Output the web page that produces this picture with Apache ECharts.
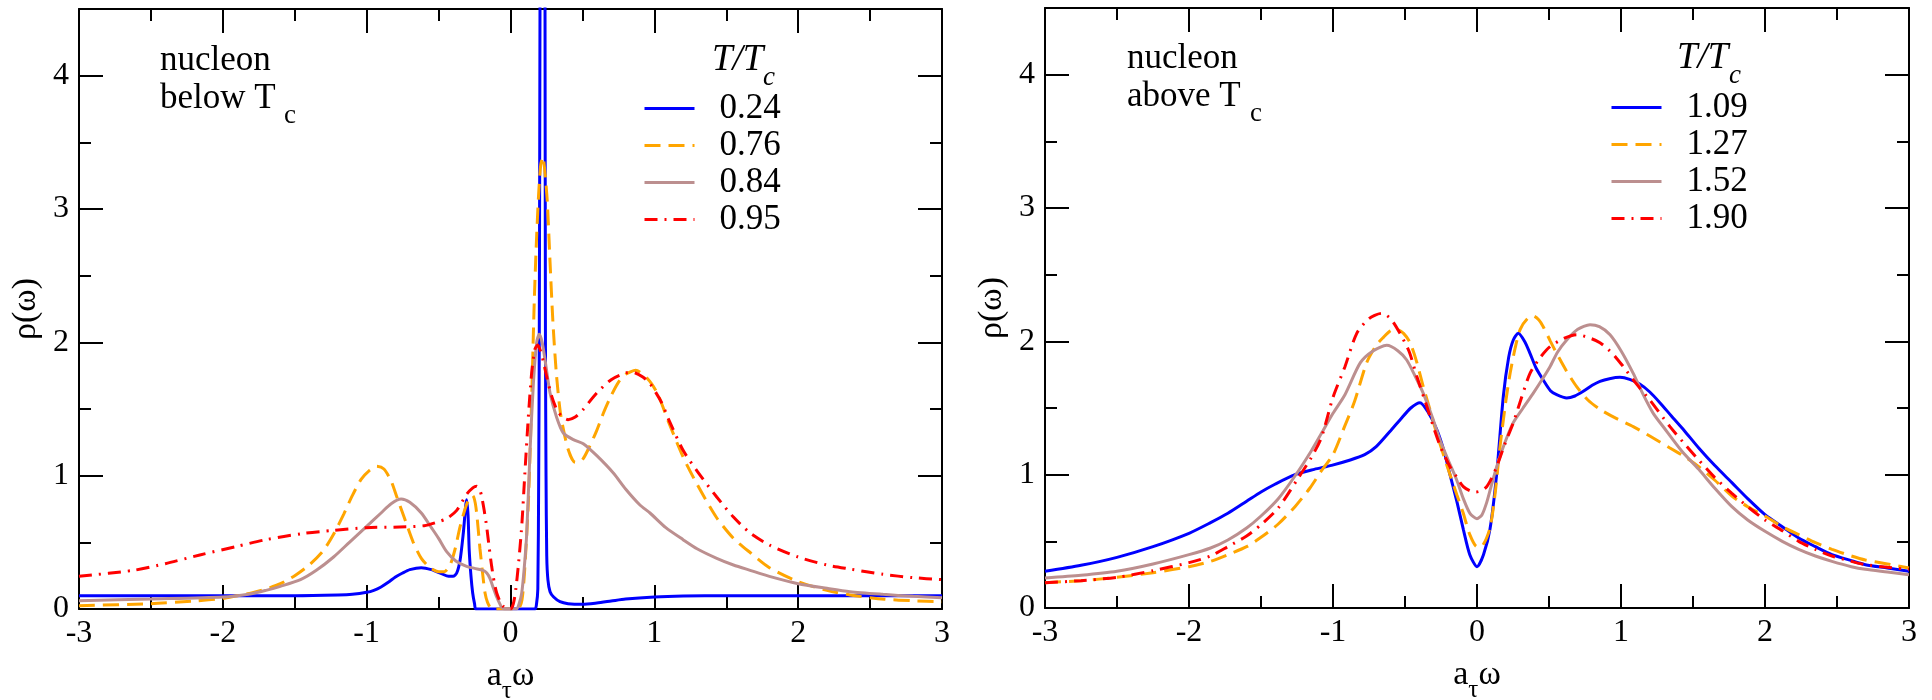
<!DOCTYPE html>
<html><head><meta charset="utf-8">
<script src="https://cdn.jsdelivr.net/npm/echarts@6/dist/echarts.min.js"></script>
<style>html,body{margin:0;padding:0;background:#fff}#c{width:1932px;height:700px}</style>
</head><body><div id="c"></div>
<script>
// ---- axis ranges / tick labels ----
const xRange = [-3, 3];
const yRange = [0, 4.5];
const xTickStep = 1;
const yTickStep = 1;

// ---- legend labels ----
const namesBelow = ['0.24', '0.76', '0.84', '0.95'];
const namesAbove = ['1.09', '1.27', '1.52', '1.90'];

// ---- left panel: nucleon below Tc, [a_tau*omega, rho] ----
const below024 = [[-3,0.10],[-2.5,0.10],[-2,0.10],[-1.5,0.10],[-1.2,0.105],[-1.1,0.11],[-1.0,0.125],[-0.95,0.14],[-0.9,0.165],[-0.85,0.2],[-0.8,0.24],[-0.75,0.27],[-0.7,0.295],[-0.62,0.31],[-0.55,0.295],[-0.48,0.265],[-0.43,0.245],[-0.4,0.245],[-0.374,0.27],[-0.35,0.37],[-0.328,0.57],[-0.305,0.82],[-0.295,0.7],[-0.287,0.44],[-0.275,0.25],[-0.263,0.12],[-0.25,0.04],[-0.24,0.0],[0.17,0.0],[0.18,0.03],[0.19,0.15],[0.196,1.0],[0.2,2.0],[0.205,4.5],[0.21,9],[0.222,14],[0.234,9],[0.24,4.5],[0.243,2.0],[0.247,1.0],[0.252,0.4],[0.26,0.22],[0.275,0.13],[0.3,0.09],[0.344,0.055],[0.4,0.04],[0.5,0.035],[0.6,0.045],[0.7,0.06],[0.8,0.075],[1.0,0.09],[1.2,0.097],[1.5,0.1],[2,0.1],[2.5,0.1],[3,0.1]];
const below076 = [[-3,0.025],[-2.5,0.04],[-2.2,0.06],[-2,0.08],[-1.9,0.1],[-1.8,0.12],[-1.7,0.15],[-1.6,0.19],[-1.5,0.25],[-1.4,0.33],[-1.3,0.44],[-1.23,0.56],[-1.16,0.71],[-1.1,0.85],[-1.04,0.97],[-0.98,1.04],[-0.93,1.07],[-0.88,1.05],[-0.83,0.96],[-0.79,0.84],[-0.73,0.66],[-0.676,0.5],[-0.62,0.38],[-0.56,0.31],[-0.5,0.28],[-0.46,0.28],[-0.42,0.33],[-0.385,0.45],[-0.35,0.62],[-0.3,0.8],[-0.263,0.85],[-0.24,0.76],[-0.212,0.45],[-0.19,0.23],[-0.177,0.12],[-0.16,0.05],[-0.14,0.01],[-0.12,0],[0.05,0],[0.08,0.07],[0.10,0.32],[0.125,0.82],[0.147,1.57],[0.165,2.3],[0.18,2.75],[0.195,3.1],[0.21,3.33],[0.225,3.39],[0.24,3.27],[0.256,3.05],[0.275,2.6],[0.295,2.15],[0.32,1.75],[0.35,1.45],[0.4,1.2],[0.45,1.1],[0.5,1.12],[0.55,1.22],[0.6,1.34],[0.65,1.48],[0.7,1.6],[0.75,1.7],[0.8,1.76],[0.87,1.79],[0.95,1.73],[1.02,1.62],[1.1,1.4],[1.2,1.14],[1.3,0.93],[1.43,0.69],[1.55,0.53],[1.67,0.42],[1.8,0.31],[2.0,0.205],[2.2,0.14],[2.36,0.105],[2.6,0.073],[2.8,0.062],[3,0.055]];
const below084 = [[-3,0.062],[-2.5,0.075],[-2,0.09],[-1.8,0.115],[-1.7,0.14],[-1.6,0.17],[-1.46,0.22],[-1.35,0.29],[-1.23,0.39],[-1.12,0.5],[-1.0,0.62],[-0.9,0.72],[-0.83,0.79],[-0.76,0.825],[-0.7,0.8],[-0.62,0.72],[-0.55,0.61],[-0.5,0.53],[-0.444,0.43],[-0.38,0.36],[-0.305,0.32],[-0.25,0.305],[-0.19,0.29],[-0.165,0.27],[-0.143,0.23],[-0.12,0.16],[-0.096,0.09],[-0.075,0.04],[-0.06,0.01],[-0.04,0],[0.04,0],[0.06,0.04],[0.078,0.12],[0.095,0.3],[0.113,0.57],[0.136,1.19],[0.159,1.69],[0.182,2.0],[0.2,2.06],[0.22,2.0],[0.24,1.87],[0.275,1.62],[0.32,1.44],[0.367,1.32],[0.437,1.27],[0.506,1.24],[0.6,1.15],[0.715,1.02],[0.8,0.9],[0.9,0.78],[0.97,0.72],[1.08,0.61],[1.2,0.52],[1.3,0.45],[1.434,0.38],[1.55,0.33],[1.666,0.29],[1.8,0.245],[2.0,0.19],[2.2,0.155],[2.36,0.13],[2.59,0.11],[2.8,0.095],[3,0.085]];
const below095 = [[-3,0.245],[-2.62,0.29],[-2.4,0.34],[-2.16,0.405],[-1.9,0.47],[-1.7,0.52],[-1.45,0.565],[-1.23,0.59],[-1.0,0.61],[-0.77,0.615],[-0.6,0.625],[-0.5,0.655],[-0.44,0.68],[-0.374,0.74],[-0.305,0.86],[-0.26,0.91],[-0.235,0.92],[-0.215,0.9],[-0.2,0.84],[-0.183,0.74],[-0.166,0.62],[-0.148,0.46],[-0.131,0.32],[-0.113,0.2],[-0.096,0.12],[-0.07,0.05],[-0.05,0.02],[-0.02,0.0],[0.0,0.0],[0.02,0.04],[0.037,0.15],[0.054,0.32],[0.078,0.62],[0.10,1.02],[0.124,1.44],[0.147,1.77],[0.17,1.95],[0.19,1.98],[0.21,1.93],[0.23,1.85],[0.252,1.74],[0.285,1.6],[0.32,1.5],[0.36,1.44],[0.4,1.42],[0.45,1.44],[0.5,1.49],[0.6,1.62],[0.7,1.72],[0.8,1.77],[0.85,1.775],[0.92,1.74],[0.97,1.69],[1.05,1.55],[1.1,1.42],[1.2,1.19],[1.3,1.03],[1.434,0.84],[1.55,0.69],[1.666,0.57],[1.8,0.48],[2.0,0.39],[2.2,0.33],[2.36,0.30],[2.59,0.26],[2.8,0.235],[3,0.22]];

// ---- right panel: nucleon above Tc ----
const above109 = [[-3,0.275],[-2.75,0.32],[-2.5,0.38],[-2.25,0.46],[-2.0,0.56],[-1.85,0.64],[-1.73,0.71],[-1.6,0.8],[-1.5,0.87],[-1.4,0.93],[-1.264,1.0],[-1.13,1.04],[-1.01,1.07],[-0.88,1.11],[-0.78,1.15],[-0.7,1.21],[-0.6,1.33],[-0.535,1.41],[-0.46,1.5],[-0.396,1.54],[-0.34,1.47],[-0.28,1.34],[-0.23,1.18],[-0.19,1.01],[-0.14,0.8],[-0.095,0.59],[-0.05,0.4],[0,0.31],[0.045,0.4],[0.09,0.59],[0.137,1.01],[0.183,1.59],[0.22,1.88],[0.252,2.01],[0.287,2.06],[0.33,2.0],[0.368,1.91],[0.41,1.8],[0.46,1.71],[0.51,1.63],[0.553,1.6],[0.623,1.575],[0.68,1.59],[0.738,1.625],[0.8,1.67],[0.854,1.70],[0.92,1.72],[0.993,1.73],[1.06,1.715],[1.13,1.68],[1.2,1.62],[1.27,1.54],[1.35,1.44],[1.44,1.33],[1.54,1.2],[1.65,1.07],[1.77,0.94],[1.88,0.82],[2.0,0.70],[2.12,0.61],[2.234,0.525],[2.35,0.46],[2.465,0.40],[2.6,0.355],[2.697,0.325],[2.85,0.3],[3,0.275]];
const above127 = [[-3,0.19],[-2.75,0.205],[-2.5,0.23],[-2.25,0.265],[-2.0,0.31],[-1.85,0.35],[-1.73,0.40],[-1.6,0.46],[-1.5,0.53],[-1.38,0.63],[-1.264,0.76],[-1.16,0.9],[-1.08,1.03],[-1.0,1.15],[-0.92,1.36],[-0.85,1.55],[-0.766,1.84],[-0.7,1.97],[-0.65,2.03],[-0.6,2.08],[-0.558,2.09],[-0.51,2.06],[-0.465,1.99],[-0.42,1.85],[-0.373,1.66],[-0.33,1.5],[-0.28,1.31],[-0.2,1.04],[-0.14,0.85],[-0.095,0.71],[-0.05,0.55],[0.0,0.46],[0.04,0.47],[0.09,0.6],[0.125,0.85],[0.16,1.21],[0.2,1.55],[0.23,1.76],[0.265,1.95],[0.30,2.09],[0.35,2.17],[0.39,2.19],[0.43,2.16],[0.46,2.11],[0.51,2.0],[0.553,1.91],[0.62,1.78],[0.692,1.66],[0.77,1.56],[0.854,1.49],[0.97,1.42],[1.085,1.36],[1.2,1.29],[1.34,1.2],[1.45,1.13],[1.54,1.06],[1.65,0.96],[1.77,0.84],[1.88,0.76],[2.0,0.69],[2.12,0.61],[2.234,0.55],[2.35,0.49],[2.465,0.44],[2.6,0.39],[2.697,0.36],[2.85,0.33],[3,0.30]];
const above152 = [[-3,0.225],[-2.75,0.245],[-2.5,0.275],[-2.25,0.33],[-2.0,0.40],[-1.85,0.45],[-1.73,0.51],[-1.6,0.6],[-1.5,0.69],[-1.38,0.82],[-1.264,0.99],[-1.15,1.18],[-1.08,1.31],[-1.0,1.46],[-0.917,1.6],[-0.81,1.84],[-0.72,1.93],[-0.627,1.97],[-0.55,1.93],[-0.488,1.86],[-0.43,1.74],[-0.373,1.61],[-0.31,1.43],[-0.257,1.26],[-0.2,1.11],[-0.141,0.96],[-0.095,0.82],[-0.049,0.71],[0.0,0.67],[0.035,0.7],[0.067,0.79],[0.1,0.92],[0.137,1.06],[0.19,1.23],[0.252,1.39],[0.32,1.5],[0.39,1.61],[0.45,1.71],[0.507,1.81],[0.56,1.92],[0.623,2.01],[0.7,2.09],[0.785,2.125],[0.85,2.11],[0.924,2.05],[1.0,1.93],[1.085,1.76],[1.15,1.61],[1.224,1.46],[1.3,1.35],[1.42,1.18],[1.54,1.04],[1.65,0.9],[1.77,0.76],[1.88,0.66],[2.0,0.575],[2.12,0.5],[2.234,0.44],[2.35,0.39],[2.465,0.35],[2.6,0.31],[2.697,0.29],[2.85,0.27],[3,0.25]];
const above190 = [[-3,0.19],[-2.75,0.205],[-2.5,0.23],[-2.25,0.28],[-2.0,0.34],[-1.85,0.39],[-1.73,0.46],[-1.6,0.54],[-1.5,0.625],[-1.38,0.75],[-1.25,0.96],[-1.15,1.13],[-1.08,1.28],[-1.0,1.58],[-0.917,1.81],[-0.835,2.06],[-0.75,2.17],[-0.662,2.21],[-0.6,2.17],[-0.535,2.06],[-0.47,1.92],[-0.419,1.74],[-0.36,1.55],[-0.303,1.36],[-0.25,1.2],[-0.1875,1.06],[-0.14,0.98],[-0.095,0.91],[-0.05,0.88],[-0.01,0.87],[0.03,0.88],[0.067,0.91],[0.1,0.97],[0.137,1.06],[0.19,1.22],[0.252,1.39],[0.31,1.58],[0.368,1.76],[0.44,1.88],[0.507,1.96],[0.6,2.02],[0.692,2.05],[0.77,2.03],[0.854,1.99],[0.94,1.91],[1.016,1.81],[1.1,1.69],[1.2,1.56],[1.34,1.36],[1.45,1.22],[1.54,1.11],[1.65,0.98],[1.77,0.86],[1.88,0.76],[2.0,0.66],[2.12,0.58],[2.234,0.50],[2.35,0.44],[2.465,0.39],[2.6,0.35],[2.697,0.325],[2.85,0.305],[3,0.29]];

const SERIF = 'Liberation Serif';
const colors = ['#0000ff', '#ffa500', '#bc8f8f', '#ff0000'];
const dashes = ['solid', [16, 8], 'solid', [13, 7, 2, 7]];

function xAxes(gridIndex) {
  const common = {
    type: 'value', gridIndex, min: xRange[0], max: xRange[1], interval: xTickStep,
    axisLine: { show: true, onZero: false, lineStyle: { color: '#000', width: 2 } },
    axisTick: { show: true, inside: true, length: 24, lineStyle: { color: '#000', width: 2 } },
    minorTick: { show: true, splitNumber: 2, length: 12, lineStyle: { color: '#000', width: 2 } },
    splitLine: { show: false }, minorSplitLine: { show: false }
  };
  return [
    Object.assign({}, common, {
      position: 'bottom',
      axisLabel: { show: true, margin: 9, fontSize: 32, fontFamily: SERIF, color: '#000' },
      name: '{m|a}{s|τ}{m|ω}', nameLocation: 'middle', nameGap: 40,
      nameTextStyle: { color: '#000', fontFamily: SERIF, rich: {
        m: { fontSize: 34, fontFamily: SERIF, color: '#000' },
        s: { fontSize: 25, fontFamily: SERIF, color: '#000', padding: [30, 0, 0, 0] }
      } }
    }),
    Object.assign({}, common, { position: 'top', axisLabel: { show: false } })
  ];
}
function yAxes(gridIndex) {
  const base = {
    type: 'value', gridIndex, min: yRange[0], max: yRange[1],
    splitLine: { show: false }
  };
  const major = Object.assign({}, base, {
    interval: yTickStep,
    axisLine: { show: true, onZero: false, lineStyle: { color: '#000', width: 2 } },
    axisTick: { show: true, inside: true, length: 24, lineStyle: { color: '#000', width: 2 } }
  });
  const minor = Object.assign({}, base, {
    interval: yTickStep / 2,
    axisLine: { show: false, onZero: false },
    axisLabel: { show: false },
    axisTick: { show: true, inside: true, length: 12, lineStyle: { color: '#000', width: 2 } }
  });
  return [
    Object.assign({}, major, {
      position: 'left',
      axisLabel: { show: true, margin: 10, fontSize: 32, fontFamily: SERIF, color: '#000', showMaxLabel: false,
        formatter: v => (Number.isInteger(v) ? String(v) : '') },
      name: 'ρ(ω)', nameLocation: 'middle', nameRotate: 90, nameGap: 36,
      nameTextStyle: { fontSize: 34, fontFamily: SERIF, color: '#000' }
    }),
    Object.assign({}, minor, { position: 'left' }),
    Object.assign({}, major, { position: 'right', axisLabel: { show: false } }),
    Object.assign({}, minor, { position: 'right' })
  ];
}

function mkSeries(name, data, i, xi, yi) {
  return {
    name, type: 'line', data, xAxisIndex: xi, yAxisIndex: yi,
    showSymbol: false, symbol: 'none', smooth: 0.25, clip: true,
    lineStyle: { color: colors[i], width: 3, type: dashes[i] },
    itemStyle: { color: colors[i] },
    z: 2 + i
  };
}

const belowData = [below024, below076, below084, below095];
const aboveData = [above109, above127, above152, above190];
const series = [];
belowData.forEach((d, i) => series.push(mkSeries(namesBelow[i], d, i, 0, 0)));
aboveData.forEach((d, i) => series.push(mkSeries(namesAbove[i], d, i, 2, 4)));

function legendFor(names, left, top) {
  return {
    data: names, orient: 'vertical', left, top, padding: 0, itemGap: 0,
    itemWidth: 50, itemHeight: 14, selectedMode: false,
    lineStyle: { width: 3 },
    itemStyle: { color: 'rgba(0,0,0,0)', borderColor: 'rgba(0,0,0,0)', borderWidth: 0, opacity: 0 },
    textStyle: { fontSize: 35, lineHeight: 37, fontFamily: SERIF, color: '#000', padding: [0, 0, 0, 20] }
  };
}

function txt(x, y, text, size, italic) {
  return { type: 'text', x, y, silent: true, style: {
    text, font: (italic ? 'italic ' : '') + size + 'px ' + SERIF,
    fill: '#000', align: 'left', verticalAlign: 'middle' } };
}

const option = {
  animation: false,
  backgroundColor: '#fff',
  textStyle: { fontFamily: SERIF },
  grid: [
    { left: 79, top: 9, width: 863, height: 600, outerBoundsMode: 'none', containLabel: false },
    { left: 1045, top: 8, width: 864, height: 600, outerBoundsMode: 'none', containLabel: false }
  ],
  xAxis: [...xAxes(0), ...xAxes(1)],
  yAxis: [...yAxes(0), ...yAxes(1)],
  legend: [legendFor(namesBelow, 643, 90), legendFor(namesAbove, 1610, 89)],
  graphic: [
    txt(160, 61, 'nucleon', 35), txt(160, 99, 'below T', 35), txt(284, 116, 'c', 27),
    txt(1127, 59, 'nucleon', 35), txt(1127, 97, 'above T', 35), txt(1250, 114, 'c', 27),
    txt(712, 60, 'T/T', 37, true), txt(763, 78, 'c', 27, true),
    txt(1677, 58, 'T/T', 37, true), txt(1729, 76, 'c', 27, true)
  ],
  series
};
const chart = echarts.init(document.getElementById('c'), null, { renderer: 'canvas' });
chart.setOption(option);
</script></body></html>
